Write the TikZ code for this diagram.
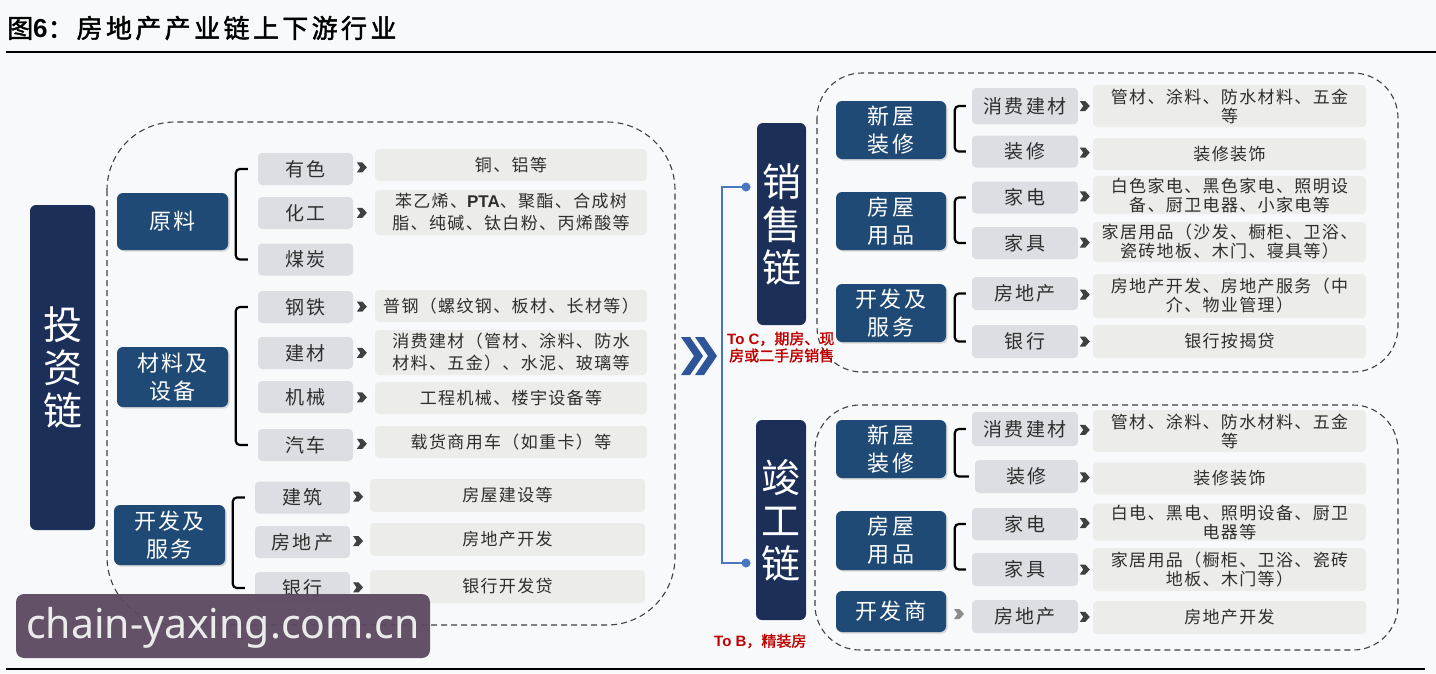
\documentclass[tikz,border=0pt]{standalone}
\usepackage{fontspec}
\setmainfont{Noto Sans CJK SC}
\newfontfamily\cjkb[FakeBold=1.6]{Noto Sans CJK SC}
\newfontfamily\arialf{Liberation Sans}
\newfontfamily\notosans{Noto Sans}
\usetikzlibrary{calc,shadows}
\definecolor{bg}{HTML}{F7F9FB}
\definecolor{navy}{HTML}{1B2F59}
\definecolor{midblue}{HTML}{1F4A75}
\definecolor{itemgray}{HTML}{DDDEE4}
\definecolor{descgray}{HTML}{ECEDEA}
\definecolor{txt}{HTML}{2E2E2E}
\definecolor{linkblue}{HTML}{4A76C0}
\definecolor{chevblue}{HTML}{2E5597}
\definecolor{redt}{HTML}{C00000}
\definecolor{wmc}{HTML}{5C4A60}
\tikzset{
  chainbox/.style={fill=navy, rounded corners=6pt, text=white, align=center, inner sep=0pt,
    font=\fontsize{39}{43}\selectfont},
  midbox/.style={fill=midblue, rounded corners=6pt, text=white, align=center, inner sep=0pt,
    font=\fontsize{22}{28}\selectfont\addfontfeature{LetterSpace=10},
    drop shadow={shadow xshift=1.5pt, shadow yshift=-1.5pt, opacity=0.3}},
  itembox/.style={fill=itemgray, rounded corners=4pt, text=txt, align=center, inner sep=0pt,
    font=\fontsize{19}{22}\selectfont\addfontfeature{LetterSpace=12}},
  descbox/.style={fill=descgray, rounded corners=4pt, text=txt, align=center, inner sep=0pt,
    font=\fontsize{17}{22}\selectfont\addfontfeature{LetterSpace=8}},
  descboxr/.style={descbox, font=\fontsize{17}{19}\selectfont\addfontfeature{LetterSpace=8}},
  region/.style={draw=black!75, dash pattern=on 6pt off 4pt, line width=1.1pt},
  bracketline/.style={draw=black, line width=2.2pt, rounded corners=4pt},
  redlabel/.style={text=redt, align=left, inner sep=0pt, font=\cjkb\fontsize{15}{17}\selectfont},
  chev/.pic={\fill[pic actions] (-5,-5) -- (0.5,-5) -- (5,0) -- (0.5,5) -- (-5,5) -- (-1.5,0) -- cycle;}
}
\begin{document}
\begin{tikzpicture}[x=1pt,y=-1pt]
\useasboundingbox (0,0) rectangle (1436,673);
\fill[bg] (0,0) rectangle (1436,673);

% title and rules
\node[anchor=west, inner sep=0pt, font=\cjkb\fontsize{26}{30}\selectfont] (title) at (7,28)
  {图{\arialf\bfseries 6}：\hspace{3pt}{\addfontfeature{LetterSpace=13}房地产产业链上下游行业}};
\draw[line width=2pt] (6,52) -- (1436,52);
\draw[line width=2pt] (6,669) -- (1425,669);

% dashed regions
\draw[region, rounded corners=68pt] (107,122) rectangle (675,625);
\draw[region, rounded corners=45pt] (817,73) rectangle (1398,372);
\draw[region, rounded corners=45pt] (815,405) rectangle (1398,650);

% ===== left: investment chain =====
\node[chainbox, minimum width=65pt, minimum height=325pt] (inv) at (62.5,367.5) {投\\资\\链};

\node[midbox, minimum width=111pt, minimum height=57pt] (m1) at (172.5,221.5) {原料};
\node[midbox, minimum width=111pt, minimum height=60pt] (m2) at (172.5,377) {材料及\\设备};
\node[midbox, minimum width=111pt, minimum height=60pt] (m3) at (169.5,535) {开发及\\服务};

\foreach \n/\y/\t in {a1/169/有色, a2/213/化工, a3/259.5/煤炭, a4/307/钢铁, a5/353/建材, a6/397/机械, a7/445/汽车}
  \node[itembox, minimum width=95pt, minimum height=32pt] (\n) at (305.5,\y) {\t};
\foreach \n/\y/\t in {a8/497.5/建筑, a9/542/房地产, a10/588/银行}
  \node[itembox, minimum width=95pt, minimum height=32pt] (\n) at (302.5,\y) {\t};

\node[descbox, minimum width=272pt, minimum height=32pt] (d1) at (511,165) {铜、铝等};
\node[descbox, minimum width=272pt, minimum height=45pt] (d2) at (511,212.5) {苯乙烯、{\arialf\bfseries PTA}、聚酯、合成树\\脂、纯碱、钛白粉、丙烯酸等};
\node[descbox, minimum width=272pt, minimum height=32pt] (d4) at (511,306) {普钢（螺纹钢、板材、长材等）};
\node[descbox, minimum width=272pt, minimum height=45pt] (d5) at (511,352.5) {消费建材（管材、涂料、防水\\材料、五金）、水泥、玻璃等};
\node[descbox, minimum width=272pt, minimum height=32pt] (d6) at (511,398) {工程机械、楼宇设备等};
\node[descbox, minimum width=272pt, minimum height=32pt] (d7) at (511,442) {载货商用车（如重卡）等};
\node[descbox, minimum width=275pt, minimum height=33pt] (d8) at (507.5,495.5) {房屋建设等};
\node[descbox, minimum width=275pt, minimum height=33pt] (d9) at (507.5,539.5) {房地产开发};
\node[descbox, minimum width=275pt, minimum height=33pt] (d10) at (507.5,586.5) {银行开发贷};

\foreach \a/\d in {a1/d1, a2/d2, a4/d4, a5/d5, a6/d6, a7/d7, a8/d8, a9/d9, a10/d10}
  \pic[fill=black!75] at ($(\a.east)!0.4!(\d.west)$) {chev};

\draw[bracketline] ([xshift=-10pt]a1.west) -- ++(-12,0) |- ([xshift=-10pt]a3.west);
\draw[bracketline] ([xshift=-10pt]a4.west) -- ++(-12,0) |- ([xshift=-10pt]a7.west);
\draw[bracketline] ([xshift=-10pt]a8.west) -- ++(-12,0) |- ([xshift=-10pt]a10.west);

% ===== middle =====
\fill[chevblue] (681,337) -- (690,337) -- (703,356) -- (690,375) -- (681,375) -- (694,356) -- cycle;
\fill[chevblue] (695,337) -- (704,337) -- (717,356) -- (704,375) -- (695,375) -- (708,356) -- cycle;

\node[chainbox, minimum width=49pt, minimum height=202pt] (sale) at (781.5,224) {销\\售\\链};
\node[chainbox, minimum width=50pt, minimum height=200pt] (comp) at (781,520) {竣\\工\\链};

\coordinate (dT) at (746,187);
\coordinate (dB) at (746,563);
\draw[linkblue, line width=2.5pt] (dT) -- (722,187) |- (dB);
\fill[linkblue] (dT) circle (4.5pt);
\fill[linkblue] (dB) circle (4.5pt);

\node[redlabel, anchor=west] (toc) at (727,347) {{\arialf\bfseries To C}，期房、现\\\hspace{2pt}房或二手房销售};
\node[redlabel, anchor=west] (tob) at (714,641) {{\arialf\bfseries To B}，精装房};

% ===== right top: sales chain =====
\node[midbox, minimum width=110pt, minimum height=58pt] (s1) at (891,130) {新屋\\装修};
\node[midbox, minimum width=110pt, minimum height=58pt] (s2) at (891,221) {房屋\\用品};
\node[midbox, minimum width=110pt, minimum height=58pt] (s3) at (891,313) {开发及\\服务};

\node[itembox, minimum width=106pt, minimum height=36pt] (b1) at (1025,106) {消费建材};
\node[itembox, minimum width=106pt, minimum height=32pt] (b2) at (1025,151.5) {装修};
\node[itembox, minimum width=106pt, minimum height=32pt] (b3) at (1025,197.5) {家电};
\node[itembox, minimum width=106pt, minimum height=32pt] (b4) at (1025,243) {家具};
\node[itembox, minimum width=106pt, minimum height=33pt] (b5) at (1025,293.5) {房地产};
\node[itembox, minimum width=106pt, minimum height=33pt] (b6) at (1025,341.5) {银行};

\node[descboxr, minimum width=273pt, minimum height=42pt] (e1) at (1229.5,106) {管材、涂料、防水材料、五金\\等};
\node[descboxr, minimum width=273pt, minimum height=32pt] (e2) at (1229.5,154) {装修装饰};
\node[descboxr, minimum width=273pt, minimum height=38pt] (e3) at (1229.5,195) {白色家电、黑色家电、照明设\\备、厨卫电器、小家电等};
\node[descboxr, minimum width=273pt, minimum height=40pt] (e4) at (1229.5,242) {家居用品（沙发、橱柜、卫浴、\\瓷砖地板、木门、寝具等）};
\node[descboxr, minimum width=273pt, minimum height=44pt] (e5) at (1229.5,296) {房地产开发、房地产服务（中\\介、物业管理）};
\node[descboxr, minimum width=273pt, minimum height=33pt] (e6) at (1229.5,341.5) {银行按揭贷};

\foreach \a/\d in {b1/e1, b2/e2, b3/e3, b4/e4, b5/e5, b6/e6}
  \pic[fill=black!75] at ($(\a.east)!0.45!(\d.west)$) {chev};

\draw[bracketline] ([xshift=-6pt]b1.west) -- ++(-11,0) |- ([xshift=-6pt]b2.west);
\draw[bracketline] ([xshift=-6pt]b3.west) -- ++(-11,0) |- ([xshift=-6pt]b4.west);
\draw[bracketline] ([xshift=-6pt]b5.west) -- ++(-11,0) |- ([xshift=-6pt]b6.west);

% ===== right bottom: completion chain =====
\node[midbox, minimum width=110pt, minimum height=58pt] (c1) at (891,449) {新屋\\装修};
\node[midbox, minimum width=110pt, minimum height=59pt] (c2) at (891,540.5) {房屋\\用品};
\node[midbox, minimum width=110pt, minimum height=41pt] (c3) at (891,611.5) {开发商};

\node[itembox, minimum width=106pt, minimum height=34pt] (f1) at (1025,429) {消费建材};
\node[itembox, minimum width=103pt, minimum height=33pt] (f2) at (1026.5,476.5) {装修};
\node[itembox, minimum width=106pt, minimum height=32pt] (f3) at (1025,524) {家电};
\node[itembox, minimum width=106pt, minimum height=33pt] (f4) at (1025,569.5) {家具};
\node[itembox, minimum width=106pt, minimum height=33pt] (f5) at (1025,616.5) {房地产};

\node[descboxr, minimum width=273pt, minimum height=42pt] (g1) at (1229.5,431) {管材、涂料、防水材料、五金\\等};
\node[descboxr, minimum width=273pt, minimum height=32pt] (g2) at (1229.5,478.5) {装修装饰};
\node[descboxr, minimum width=273pt, minimum height=37pt] (g3) at (1229.5,522) {白电、黑电、照明设备、厨卫\\电器等};
\node[descboxr, minimum width=273pt, minimum height=43pt] (g4) at (1229.5,569.5) {家居用品（橱柜、卫浴、瓷砖\\地板、木门等）};
\node[descboxr, minimum width=273pt, minimum height=33pt] (g5) at (1229.5,617.5) {房地产开发};

\foreach \a/\d in {f1/g1, f2/g2, f3/g3, f4/g4, f5/g5}
  \pic[fill=black!75] at ($(\a.east)!0.45!(\d.west)$) {chev};
\pic[fill=black!45] at ($(c3.east)!0.5!(f5.west)$) {chev};

\draw[bracketline] ([xshift=-6pt]f1.west) -- ++(-11,0) |- ([xshift=-6pt]f2.west);
\draw[bracketline] ([xshift=-6pt]f3.west) -- ++(-11,0) |- ([xshift=-6pt]f4.west);

% ===== watermark =====
\node[fill=wmc, fill opacity=0.95, rounded corners=8pt, minimum width=414pt, minimum height=64pt,
  inner sep=0pt] (wm) at (223,626) {};
\node[text=white!92!black, inner sep=0pt, font=\notosans\fontsize{41}{44}\selectfont] (wmt) at (223,628) {chain-yaxing.com.cn};
\end{tikzpicture}
\end{document}
